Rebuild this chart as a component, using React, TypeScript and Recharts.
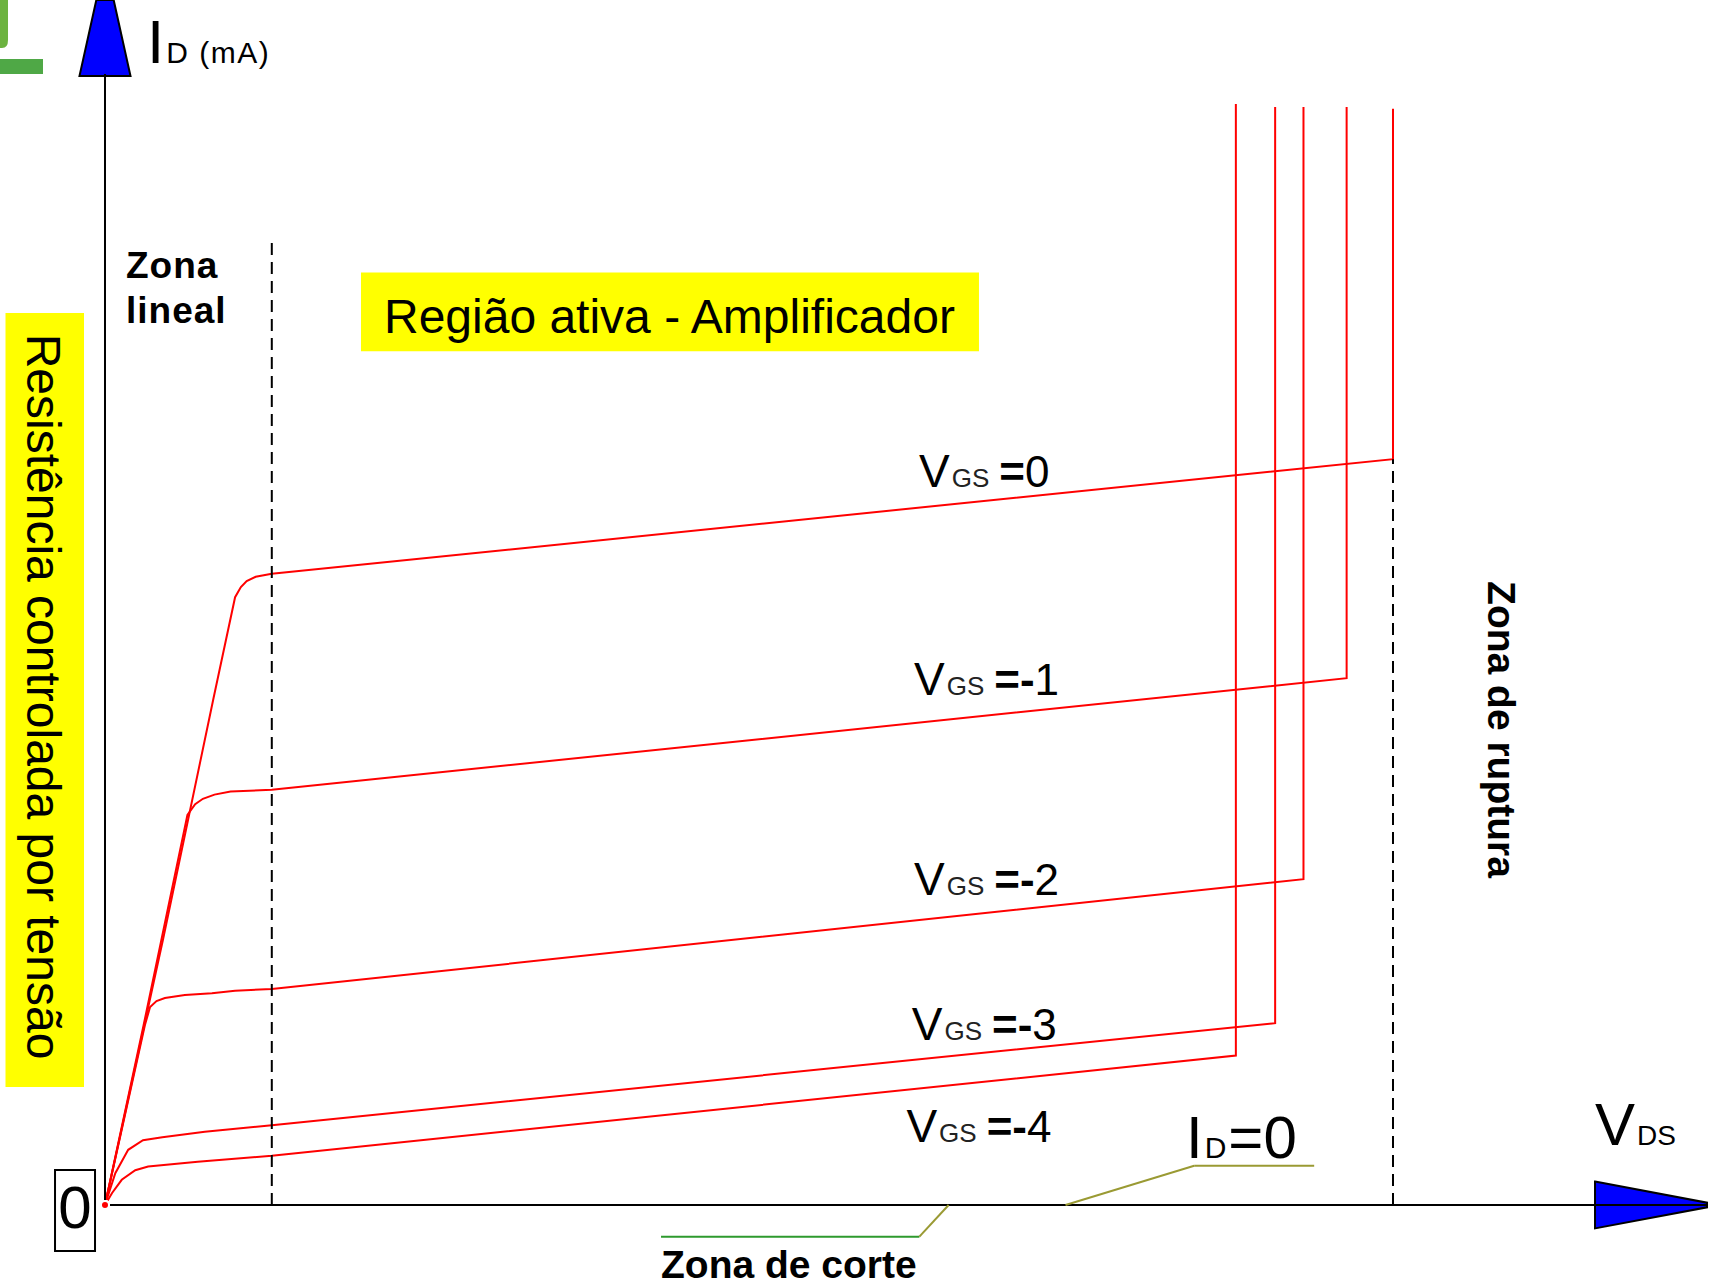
import React from 'react';
import { LineChart, Line, XAxis, YAxis, ReferenceLine, ReferenceArea, ReferenceDot } from 'recharts';

const W = 1710;
const H = 1285;
const FONT = '"Liberation Sans", Arial, Helvetica, sans-serif';

// axis domains (VDS in V, ID in mA)
const X_DOMAIN: [number, number] = [-1.6304, 24.9224];
const Y_DOMAIN: [number, number] = [-1.3333, 20.0833];

// gate voltages
const VGS_VALUES = ['0', '-1', '-2', '-3', '-4'];

// curves: VDS (V) and ID (mA)
const VDS_0 = [0, 0.9, 1.68, 2.02, 2.11, 2.2, 2.34, 2.59, 20.0, 20.0];
const ID_0 = [0, 4.42, 8.42, 10.13, 10.3, 10.4, 10.47, 10.52, 12.43, 18.27];
const VDS_1 = [0, 0.6, 1.28, 1.4, 1.52, 1.7, 1.95, 2.59, 19.28, 19.28];
const ID_1 = [0, 3.0, 6.5, 6.68, 6.77, 6.84, 6.89, 6.92, 8.78, 18.3];
const VDS_2 = [0, 0.62, 0.7, 0.8, 0.93, 1.24, 1.66, 2.02, 2.59, 18.61, 18.61];
const ID_2 = [0, 3.0, 3.3, 3.4, 3.45, 3.5, 3.53, 3.57, 3.6, 5.43, 18.3];
const VDS_3 = [0, 0.16, 0.36, 0.59, 0.89, 1.55, 2.59, 18.17, 18.17];
const ID_3 = [0, 0.53, 0.92, 1.08, 1.13, 1.22, 1.33, 3.03, 18.3];
const VDS_4 = [0, 0.11, 0.26, 0.47, 0.67, 1.44, 2.59, 17.56, 17.56];
const ID_4 = [0, 0.2, 0.42, 0.58, 0.64, 0.72, 0.82, 2.49, 18.35];

// region boundaries
const LINEAL_VDS = 2.59;
const BREAKDOWN_VDS = 20.0;
const BREAKDOWN_ID = 12.43;

const zip = (xs: number[], ys: number[]) => xs.map((x, i) => ({ x, y: ys[i] }));
const CURVES = [
  zip(VDS_0, ID_0),
  zip(VDS_1, ID_1),
  zip(VDS_2, ID_2),
  zip(VDS_3, ID_3),
  zip(VDS_4, ID_4),
];

// label anchor points (data units)
const LABEL_POS = [
  { x: 12.64, y: 11.967 },
  { x: 12.562, y: 8.505 },
  { x: 12.562, y: 5.16 },
  { x: 12.527, y: 2.743 },
  { x: 12.444, y: 1.052 },
];

const txt = (render: (cx: number, cy: number) => React.ReactNode) => (p: any) => (
  <g>{render(p.cx, p.cy)}</g>
);

export default function App() {
  return (
    <div style={{ position: 'absolute', left: 0, top: 0, width: W, height: H, background: '#fff' }}>
      <LineChart width={W} height={H} margin={{ top: 0, right: 0, bottom: 0, left: 0 }}>
        <XAxis type="number" dataKey="x" domain={X_DOMAIN} hide allowDataOverflow />
        <YAxis type="number" dataKey="y" domain={Y_DOMAIN} hide allowDataOverflow />

        {/* green fragment top-left */}
        <ReferenceArea x1={-1.6304} x2={-1.506} y1={19.283} y2={20.0833} fill="#6cb33f" fillOpacity={1} stroke="none"
          shape={(p: any) => <path d={`M${p.x},${p.y} H${p.x + p.width} V${p.y + p.height - 8} Q${p.x + p.width},${p.y + p.height} ${p.x + p.width - 6},${p.y + p.height} H${p.x} Z`} fill="#6cb33f" />} />
        <ReferenceArea x1={-1.6304} x2={-0.9627} y1={18.85} y2={19.1} fill="#4fa846" fillOpacity={1} stroke="none" />

        {/* yellow boxes */}
        <ReferenceArea x1={-1.545} x2={-0.326} y1={1.967} y2={14.867} fill="#ffff00" fillOpacity={1} stroke="none" />
        <ReferenceArea x1={3.975} x2={13.571} y1={14.23} y2={15.54} fill="#ffff00" fillOpacity={1} stroke="none" />

        {/* origin box */}
        <ReferenceArea x1={-0.776} x2={-0.155} y1={-0.767} y2={0.583} fill="#fff" fillOpacity={1} stroke="#000" strokeWidth={2} />

        {CURVES.map((d, i) => (
          <Line key={i} data={d} dataKey="y" type="linear" stroke="#ff0000" strokeWidth={2} dot={false}
            isAnimationActive={false} legendType="none" />
        ))}

        {/* dashed region boundaries */}
        <ReferenceLine segment={[{ x: LINEAL_VDS, y: 0 }, { x: LINEAL_VDS, y: 16.12 }]} stroke="#000" strokeWidth={2}
          strokeDasharray="12 7" isFront ifOverflow="visible" />
        <ReferenceLine segment={[{ x: BREAKDOWN_VDS, y: 0 }, { x: BREAKDOWN_VDS, y: BREAKDOWN_ID }]} stroke="#000" strokeWidth={2}
          strokeDasharray="12 7" isFront ifOverflow="visible" />

        {/* axes */}
        <ReferenceLine segment={[{ x: 0, y: 0 }, { x: 0, y: 18.85 }]} stroke="#000" strokeWidth={2} isFront ifOverflow="visible" />
        <ReferenceLine segment={[{ x: 0, y: 0 }, { x: 24.876, y: 0 }]} stroke="#000" strokeWidth={2} isFront ifOverflow="visible" />
        <ReferenceArea x1={-0.396} x2={0.396} y1={18.817} y2={20.0833} isFront fill="#0000ff" fillOpacity={1}
          shape={(p: any) => (
            <polygon
              points={`${p.x + p.width * 0.33},${p.y} ${p.x + p.width * 0.67},${p.y} ${p.x + p.width},${p.y + p.height} ${p.x},${p.y + p.height}`}
              fill="#0000ff" stroke="#000" strokeWidth={2} strokeLinejoin="miter" />
          )} />
        <ReferenceArea x1={23.137} x2={24.876} y1={-0.39} y2={0.39} isFront fill="#0000ff" fillOpacity={1}
          shape={(p: any) => (
            <polygon
              points={`${p.x},${p.y} ${p.x + p.width},${p.y + p.height * 0.45} ${p.x + p.width},${p.y + p.height * 0.55} ${p.x},${p.y + p.height}`}
              fill="#0000ff" stroke="#000" strokeWidth={2} />
          )} />

        {/* leader lines */}
        <ReferenceLine segment={[{ x: 8.634, y: -0.528 }, { x: 12.646, y: -0.528 }]} stroke="#2e9a2e" strokeWidth={2} ifOverflow="visible" />
        <ReferenceLine segment={[{ x: 12.646, y: -0.528 }, { x: 13.1, y: 0 }]} stroke="#9a9a33" strokeWidth={2} ifOverflow="visible" />
        <ReferenceLine segment={[{ x: 14.915, y: 0 }, { x: 16.913, y: 0.653 }]} stroke="#9a9a33" strokeWidth={2} ifOverflow="visible" />
        <ReferenceLine segment={[{ x: 16.913, y: 0.653 }, { x: 18.776, y: 0.653 }]} stroke="#9a9a33" strokeWidth={2} ifOverflow="visible" />

        {/* VGS labels */}
        {VGS_VALUES.map((v, i) => (
          <ReferenceDot key={'l' + i} x={LABEL_POS[i].x} y={LABEL_POS[i].y} r={0} ifOverflow="visible" isFront
            shape={txt((cx, cy) => (
              <text x={cx} y={cy} fontFamily={FONT} fill="#000">
                <tspan fontSize={46}>V</tspan>
                <tspan fontSize={26} dx={2} fill="#222">GS</tspan>
                <tspan fontSize={44} fontWeight="bold" dx={10}>{v.startsWith('-') ? '=-' : '='}</tspan>
                <tspan fontSize={44}>{v.replace('-', '')}</tspan>
              </text>
            ))} />
        ))}

        {/* ID axis label */}
        <ReferenceDot x={0.652} y={19.03} r={0} ifOverflow="visible" isFront
          shape={txt((cx, cy) => (
            <text x={cx} y={cy} fontFamily={FONT} fill="#000">
              <tspan fontSize={62}>I</tspan>
              <tspan fontSize={30} dx={2} letterSpacing={1.5}>D (mA)</tspan>
            </text>
          ))} />

        {/* VDS axis label */}
        <ReferenceDot x={23.137} y={1.0} r={0} ifOverflow="visible" isFront
          shape={txt((cx, cy) => (
            <text x={cx} y={cy} fontFamily={FONT} fill="#000">
              <tspan fontSize={60}>V</tspan>
              <tspan fontSize={28} dx={2}>DS</tspan>
            </text>
          ))} />

        {/* ID=0 */}
        <ReferenceDot x={16.786} y={0.783} r={0} ifOverflow="visible" isFront
          shape={txt((cx, cy) => (
            <text x={cx} y={cy} fontFamily={FONT} fill="#000">
              <tspan fontSize={60}>I</tspan>
              <tspan fontSize={30} dx={2}>D</tspan>
              <tspan fontSize={60} dx={2}>=0</tspan>
            </text>
          ))} />

        {/* origin 0 */}
        <ReferenceDot x={-0.465} y={-0.383} r={0} ifOverflow="visible" isFront
          shape={txt((cx, cy) => (
            <text x={cx} y={cy} fontFamily={FONT} fontSize={60} textAnchor="middle" fill="#000">0</text>
          ))} />

        {/* Zona lineal */}
        <ReferenceDot x={0.326} y={15.45} r={0} ifOverflow="visible" isFront
          shape={txt((cx, cy) => (
            <text x={cx} y={cy} fontFamily={FONT} fontSize={37} fontWeight="bold" fill="#000" letterSpacing={1}>
              <tspan x={cx}>Zona</tspan>
              <tspan x={cx} dy={45}>lineal</tspan>
            </text>
          ))} />

        {/* Região ativa */}
        <ReferenceDot x={4.332} y={14.54} r={0} ifOverflow="visible" isFront
          shape={txt((cx, cy) => (
            <text x={cx} y={cy} fontFamily={FONT} fontSize={48} fill="#000">Região ativa - Amplificador</text>
          ))} />

        {/* Resistência controlada por tensão */}
        <ReferenceDot x={-0.953} y={8.475} r={0} ifOverflow="visible" isFront
          shape={txt((cx, cy) => (
            <text x={cx} y={cy} transform={`rotate(90 ${cx} ${cy})`} fontFamily={FONT} fontSize={48}
              textAnchor="middle" dominantBaseline="central" fill="#000">Resistência controlada por tensão</text>
          ))} />

        {/* Zona de ruptura */}
        <ReferenceDot x={21.68} y={7.925} r={0} ifOverflow="visible" isFront
          shape={txt((cx, cy) => (
            <text x={cx} y={cy} transform={`rotate(90 ${cx} ${cy})`} fontFamily={FONT} fontSize={39} fontWeight="bold"
              textAnchor="middle" dominantBaseline="central" fill="#000">Zona de ruptura</text>
          ))} />

        {/* Zona de corte */}
        <ReferenceDot x={8.634} y={-1.2167} r={0} ifOverflow="visible" isFront
          shape={txt((cx, cy) => (
            <text x={cx} y={cy} fontFamily={FONT} fontSize={39} fontWeight="bold" fill="#000">Zona de corte</text>
          ))} />
      </LineChart>
    </div>
  );
}
